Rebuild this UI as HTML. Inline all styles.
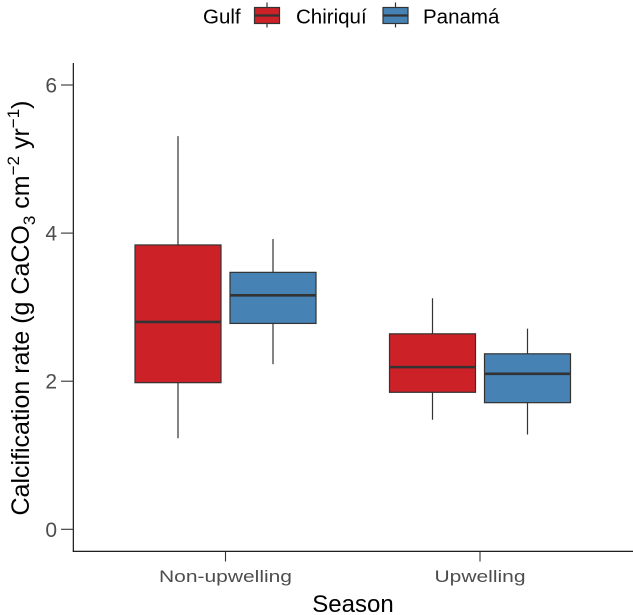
<!DOCTYPE html>
<html><head><meta charset="utf-8"><style>
body{margin:0;background:#fff}
svg{display:block;font-family:"Liberation Sans",Arial,sans-serif}
</style></head><body>
<svg id="chart" width="633" height="615" viewBox="0 0 633 615" xmlns="http://www.w3.org/2000/svg">
<g id="legend">
<text x="203" y="23.5" font-size="20.5" fill="#000">Gulf</text>
<g>
<line x1="267" y1="2.5" x2="267" y2="27.5" stroke="#333" stroke-width="1.2"/>
<rect x="254.5" y="7.5" width="25" height="16" fill="#cb2127" stroke="#333" stroke-width="1.2"/>
<line x1="254.5" y1="15.5" x2="279.5" y2="15.5" stroke="#333" stroke-width="2.2"/>
<text x="296" y="23.5" font-size="20.5">Chiriquí</text></g>
<g>
<line x1="395.5" y1="2.5" x2="395.5" y2="27.5" stroke="#333" stroke-width="1.2"/>
<rect x="383" y="7.5" width="25" height="16" fill="#4682b4" stroke="#333" stroke-width="1.2"/>
<line x1="383" y1="15.5" x2="408" y2="15.5" stroke="#333" stroke-width="2.2"/>
<text x="423" y="23.5" font-size="20.5">Panamá</text></g>
</g>
<g id="plot"></g>
<text transform="translate(29,308) rotate(-90)" text-anchor="middle" font-size="25" fill="#000">Calcification rate (g CaCO<tspan font-size="17" dy="6">3</tspan><tspan dy="-6"> cm</tspan><tspan font-size="17" dy="-10">−2</tspan><tspan dy="10"> yr</tspan><tspan font-size="17" dy="-10">−1</tspan><tspan dy="10">)</tspan></text>
<text x="353" y="612" text-anchor="middle" font-size="24" fill="#000">Season</text>
</svg>
<script>
const categories = ["Non-upwelling", "Upwelling"];
const groups = ["Chiriquí", "Panamá"];
const yTicks = [0, 2, 4, 6];
const chiriquiStats = [[1.23, 1.98, 2.80, 3.84, 5.31], [1.48, 1.85, 2.19, 2.64, 3.12]];
const panamaStats = [[2.23, 2.78, 3.16, 3.47, 3.92], [1.28, 1.71, 2.10, 2.37, 2.71]];
const colors = ["#cb2127", "#4682b4"];

const NS = "http://www.w3.org/2000/svg";
const plot = document.getElementById("plot");
const y = v => 529.3 - v * 74.05;
const x = i => 225.5 + i * 254.5;
function mk(tag, attrs, parent) {
  const e = document.createElementNS(NS, tag);
  for (const k in attrs) e.setAttribute(k, attrs[k]);
  (parent || plot).appendChild(e);
  return e;
}
const yAxis = mk("line", {x1: 73.3, y1: 63, x2: 73.3, y2: 551.8, stroke: "#000", "stroke-width": 1.1});


const xAxis = mk("line", {x1: 72.8, y1: 551.3, x2: 633, y2: 551.3, stroke: "#000", "stroke-width": 1.1});


yTicks.forEach(t => {
  const tk = mk("line", {x1: 61, y1: y(t), x2: 73.3, y2: y(t), stroke: "#333", "stroke-width": 1.1});
  
  
  const lb = mk("text", {x: 57, y: y(t) + 7.5, "text-anchor": "end", "font-size": 21, fill: "#4d4d4d"});
  lb.textContent = t;
  
  
});
categories.forEach((c, i) => {
  const tk = mk("line", {x1: x(i), y1: 551.3, x2: x(i), y2: 561.5, stroke: "#333", "stroke-width": 1.1});
  
  
  const lb = mk("text", {x: 0, y: 0, "text-anchor": "middle", "font-size": 21, fill: "#4d4d4d", transform: "translate(" + x(i) + ",582) scale(1,0.8)"});
  lb.textContent = c;
  
  
});
[chiriquiStats, panamaStats].forEach((series, g) => {
  series.forEach((s, i) => {
    const cx = x(i) + (g === 0 ? -47.5 : 47.5);
    const w = 86;
    const grp = mk("g", {});
    
    
    mk("line", {x1: cx, y1: y(s[4]), x2: cx, y2: y(s[0]), stroke: "#333", "stroke-width": 1.2}, grp);
    mk("rect", {x: cx - w / 2, y: y(s[3]), width: w, height: y(s[1]) - y(s[3]), fill: colors[g], stroke: "#333", "stroke-width": 1.2}, grp);
    mk("line", {x1: cx - w / 2, y1: y(s[2]), x2: cx + w / 2, y2: y(s[2]), stroke: "#333", "stroke-width": 2.6}, grp);
  });
});
</script>
</body></html>
